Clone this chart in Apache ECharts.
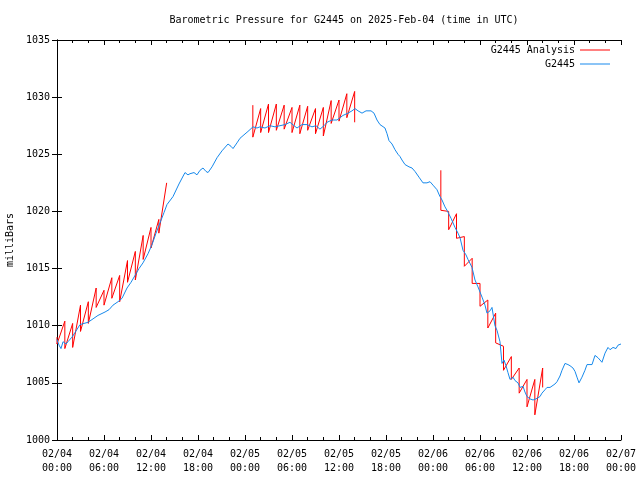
<!DOCTYPE html>
<html>
<head>
<meta charset="utf-8">
<script src="https://cdn.jsdelivr.net/npm/echarts@6/dist/echarts.min.js"></script>
<style>html,body{margin:0;padding:0;background:#fff;}#c{width:640px;height:480px;}</style>
</head>
<body>
<div id="c"></div>
<script>
// Hours since 2025-02-04 00:00 UTC
const blueHours = [0,0.26,0.51,0.77,1.15,1.40,1.91,2.30,2.94,3.45,3.96,4.60,5.23,6.13,6.64,7.15,7.79,8.30,8.94,9.45,9.96,10.47,10.98,11.62,12.13,12.64,13.15,13.66,14.04,14.81,15.57,16.34,16.72,16.98,17.49,17.87,18.26,18.64,19.02,19.28,19.79,20.43,21.06,21.83,22.21,22.47,22.98,23.36,23.87,24.38,25.02,25.53,25.91,26.55,27.19,27.83,28.47,29.11,29.74,30.26,30.64,31.28,31.91,32.55,33.06,33.57,34.09,34.47,35.11,35.74,36.13,36.51,37.15,37.66,38.04,38.43,38.94,39.45,39.70,40.09,40.47,40.85,41.23,41.87,42.13,42.38,42.77,43.15,43.53,43.79,44.04,44.43,44.94,45.32,45.70,46.21,46.72,47.23,47.62,48.00,48.51,48.89,49.15,49.53,49.79,50.30,50.81,51.19,51.45,51.83,52.21,52.47,52.98,53.36,53.74,54.26,54.64,54.89,55.28,55.53,55.91,56.17,56.55,56.81,57.06,57.32,57.57,57.83,58.21,58.47,58.85,59.11,59.49,59.74,60.00,60.38,60.77,61.15,61.40,61.66,61.91,62.30,62.55,62.94,63.19,63.57,63.83,64.21,64.47,64.85,65.23,65.49,65.87,66.13,66.38,66.64,67.02,67.40,67.66,68.04,68.30,68.68,69.06,69.32,69.57,69.96,70.34,70.60,70.98,71.36,71.62,72.0];
const bluePressure = [1008.8,1008.3,1008.0,1008.6,1008.4,1008.6,1009.0,1009.4,1010.1,1010.2,1010.3,1010.6,1010.9,1011.2,1011.4,1011.8,1012.1,1012.4,1013.3,1013.8,1014.4,1015.0,1015.5,1016.3,1017.1,1018.1,1019.0,1019.9,1020.6,1021.3,1022.4,1023.4,1023.2,1023.3,1023.4,1023.2,1023.6,1023.8,1023.5,1023.4,1023.9,1024.7,1025.3,1025.9,1025.7,1025.5,1026.0,1026.4,1026.7,1027.0,1027.4,1027.3,1027.4,1027.3,1027.5,1027.4,1027.5,1027.6,1027.8,1027.5,1027.3,1027.6,1027.6,1027.4,1027.5,1027.2,1027.5,1027.8,1028.0,1028.0,1028.2,1028.4,1028.6,1028.8,1029.0,1028.8,1028.6,1028.8,1028.9,1028.8,1028.6,1028.0,1027.6,1027.3,1026.8,1026.2,1025.9,1025.4,1025.0,1024.8,1024.5,1024.1,1023.9,1023.8,1023.5,1023.0,1022.5,1022.5,1022.6,1022.3,1021.9,1021.3,1021.0,1020.4,1020.1,1019.4,1018.6,1018.1,1017.7,1016.6,1016.2,1015.8,1015.1,1014.0,1013.4,1012.5,1011.8,1011.1,1011.3,1011.6,1010.0,1009.6,1008.6,1006.7,1007.0,1006.5,1005.9,1005.3,1005.5,1005.2,1005.0,1004.6,1004.7,1004.2,1003.8,1003.6,1003.5,1003.6,1003.5,1003.8,1004.1,1004.4,1004.6,1004.6,1004.6,1004.9,1005.1,1005.6,1006.1,1006.7,1006.6,1006.5,1006.3,1006.0,1005.5,1005.0,1005.5,1006.1,1006.6,1006.6,1006.6,1007.4,1007.2,1007.0,1006.8,1007.6,1008.1,1007.9,1008.1,1008.0,1008.3,1008.4];

// Analysis runs: hourly value at the hour (high) and the restarted value (low)
const run1Start = 0;
const run1High = [1009.0,1010.4,1010.2,1011.8,1012.1,1013.3,1013.1,1014.2,1014.4,1015.7,1016.5,1017.9,1018.6,1019.3,1022.5];
const run1Low  = [1008.4,1008.0,1008.1,1009.5,1010.2,1011.6,1011.8,1012.4,1012.1,1013.8,1014.0,1015.8,1016.8,1018.1,null];
const run2Start = 25;
const run2High = [1029.3,1029.0,1029.4,1029.4,1029.3,1029.1,1029.3,1029.2,1029.0,1029.1,1029.7,1029.75,1030.3,1030.5];
const run2Low  = [1026.5,1026.9,1026.9,1027.1,1027.2,1026.9,1026.8,1027.1,1026.8,1026.6,1027.7,1027.9,1028.2,1027.8];
const run3Start = 49;
const run3High = [1023.6,1020.0,1019.8,1017.8,1015.9,1013.7,1012.25,1011.1,1008.2,1007.3,1006.3,1005.3,1005.3,1006.3];
const run3Low  = [1020.1,1018.4,1017.65,1015.2,1013.7,1011.7,1009.8,1008.5,1006.1,1005.3,1004.1,1002.9,1002.2,1004.6];

const yMin = 1000, yMax = 1035, yStep = 5;
const xMin = 0, xMax = 72, xStep = 6;

function buildRun(start, highs, lows, out) {
  for (let i = 0; i < highs.length; i++) {
    out.push([start + i, highs[i]]);
    if (lows[i] != null) out.push([start + i, lows[i]]);
  }
  out.push([start + highs.length, null]);
}
const redData = [];
buildRun(run1Start, run1High, run1Low, redData);
buildRun(run2Start, run2High, run2Low, redData);
buildRun(run3Start, run3High, run3Low, redData);
const blueData = blueHours.map((h, i) => [h, bluePressure[i]]);

const FONT = 'DejaVu Sans Mono';
function xLabel(v) {
  const day = 4 + Math.floor(v / 24);
  const hr = v % 24;
  const dd = day < 10 ? '0' + day : '' + day;
  const hh = hr < 10 ? '0' + hr : '' + hr;
  return '02/' + dd + '\n' + hh + ':00';
}
const tickStyle = {color: '#000', width: 1};
const chart = echarts.init(document.getElementById('c'), null, {renderer: 'canvas'});
chart.setOption({
  animation: false,
  backgroundColor: '#fff',
  title: {
    text: 'Barometric Pressure for G2445 on 2025-Feb-04 (time in UTC)',
    left: 339, top: 10, textAlign: 'center',
    textStyle: {fontFamily: FONT, fontSize: 10, fontWeight: 'normal', color: '#000'}
  },
  legend: [
    {data: ['G2445 Analysis'], right: 30, top: 45, align: 'right', orient: 'vertical',
     icon: 'rect', itemWidth: 30, itemHeight: 1, itemGap: 4, padding: 0,
     textStyle: {fontFamily: FONT, fontSize: 10, color: '#000'}},
    {data: ['G2445'], right: 30, top: 59, align: 'right', orient: 'vertical',
     icon: 'rect', itemWidth: 30, itemHeight: 1, itemGap: 4, padding: 0,
     textStyle: {fontFamily: FONT, fontSize: 10, color: '#000'}}
  ],
  grid: {left: 57, right: 19, top: 40, bottom: 40, containLabel: false, outerBoundsMode: 'none'},
  xAxis: [
    {type: 'value', min: xMin, max: xMax, interval: xStep, position: 'bottom',
     axisLine: {show: true, lineStyle: tickStyle},
     axisTick: {show: true, inside: true, length: 5, lineStyle: tickStyle},
     minorTick: {show: true, splitNumber: 3, length: 3, lineStyle: tickStyle},
     splitLine: {show: false},
     axisLabel: {formatter: xLabel, fontFamily: FONT, fontSize: 10, color: '#000', margin: 7, lineHeight: 14}},
    {type: 'value', min: xMin, max: xMax, interval: xStep, position: 'top',
     axisLine: {show: true, lineStyle: tickStyle},
     axisTick: {show: true, inside: true, length: 5, lineStyle: tickStyle},
     minorTick: {show: true, splitNumber: 3, length: 3, lineStyle: tickStyle},
     splitLine: {show: false}, axisLabel: {show: false}}
  ],
  yAxis: [
    {type: 'value', min: yMin, max: yMax, interval: yStep, position: 'left',
     name: 'milliBars', nameLocation: 'middle', nameGap: 42, nameRotate: 90,
     nameTextStyle: {fontFamily: FONT, fontSize: 10, color: '#000'},
     axisLine: {show: true, lineStyle: tickStyle},
     axisTick: {show: true, inside: true, length: 5, lineStyle: tickStyle},
     splitLine: {show: false},
     axisLabel: {formatter: v => String(v), fontFamily: FONT, fontSize: 10, color: '#000', margin: 7}},
    {type: 'value', min: yMin, max: yMax, interval: yStep, position: 'right',
     axisLine: {show: true, lineStyle: tickStyle},
     axisTick: {show: true, inside: true, length: 5, lineStyle: tickStyle},
     splitLine: {show: false}, axisLabel: {show: false}}
  ],
  series: [
    {name: 'G2445 Analysis', type: 'line', data: redData, xAxisIndex: 0, yAxisIndex: 0,
     showSymbol: false, connectNulls: false, lineStyle: {color: '#ff0000', width: 1},
     itemStyle: {color: '#ff0000'}},
    {name: 'G2445', type: 'line', data: blueData, xAxisIndex: 0, yAxisIndex: 0,
     showSymbol: false, lineStyle: {color: '#1689ec', width: 1},
     itemStyle: {color: '#1689ec'}}
  ]
});
</script>
</body>
</html>
